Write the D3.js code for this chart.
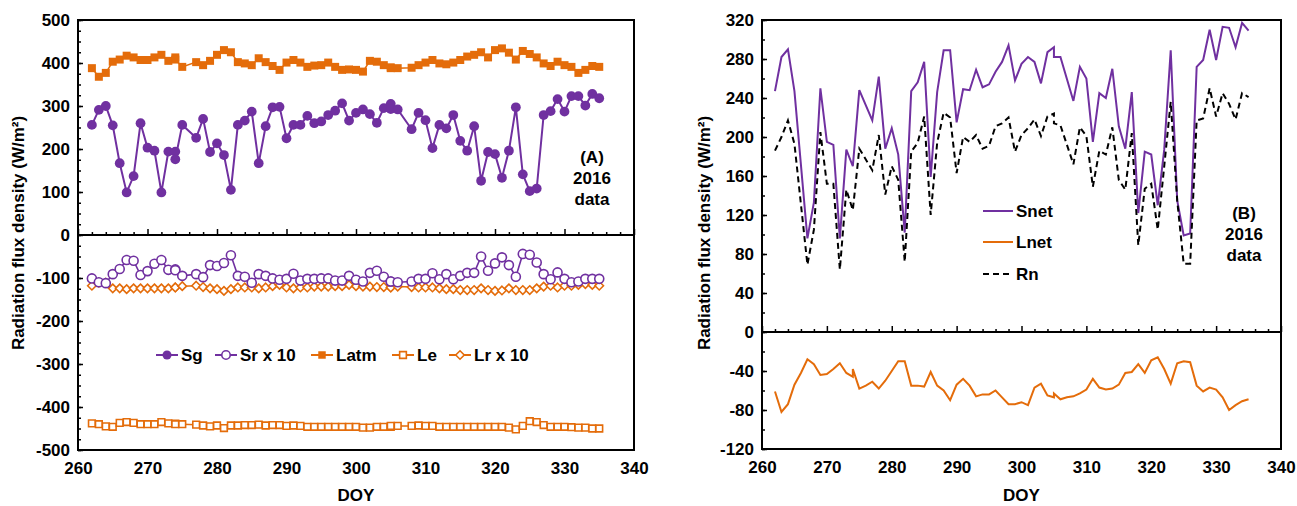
<!DOCTYPE html>
<html><head><meta charset="utf-8">
<script src="https://cdn.jsdelivr.net/npm/d3@7"></script>
<style>
body{margin:0;background:#fff;}
text{font-family:"Liberation Sans",Arial,sans-serif;font-weight:bold;fill:#000;}
</style></head>
<body><svg id="c" width="1297" height="506"></svg>
<script>
// ---------- Panel A data ----------
const leftDOY = [262,263,264,265,266,267,268,269,270,271,272,273,274,274,275,277,278,279,280,281,282,283,284,285,286,287,288,289,290,291,292,293,294,295,296,297,298,299,300,301,302,303,304,305,305,306,308,309,310,311,312,313,314,315,316,317,318,319,320,321,322,323,324,325,326,327,328,329,330,331,332,333,334,335];
const Sg   = [256,291,300,255,167,99,137,260,203,196,99,194,194,176,256,226,270,193,213,186,105,256,266,287,167,253,297,298,225,256,256,277,260,264,279,289,306,266,284,292,281,261,295,305,293,292,246,284,267,202,256,248,279,219,196,253,126,193,188,133,196,297,141,102,108,279,288,316,287,323,323,301,328,318];
const SrX10 = [-101,-110,-112,-91,-79,-58,-60,-93,-84,-67,-58,-81,-80,-82,-95,-91,-98,-70,-72,-65,-47,-95,-97,-111,-91,-95,-101,-104,-102,-90,-106,-102,-102,-101,-101,-106,-106,-95,-104,-108,-88,-83,-97,-108,-108,-110,-108,-102,-102,-89,-103,-91,-103,-95,-88,-88,-50,-83,-66,-52,-70,-97,-44,-46,-64,-91,-103,-87,-102,-110,-108,-102,-102,-102];
const Latm = [388,368,377,403,408,417,413,407,407,413,419,405,413,408,391,402,395,405,419,430,425,402,399,395,411,402,393,384,401,407,401,391,394,395,401,391,384,385,384,380,405,403,395,388,390,388,389,395,401,407,399,397,401,407,415,419,425,413,430,434,424,408,428,421,413,399,393,403,395,391,377,384,393,391];
const Le   = [-438,-440,-445,-446,-437,-435,-437,-440,-440,-440,-435,-438,-439,-440,-440,-441,-443,-445,-443,-449,-443,-443,-442,-442,-441,-443,-442,-442,-444,-443,-444,-446,-446,-446,-446,-446,-446,-446,-446,-448,-448,-446,-446,-446,-444,-444,-444,-443,-444,-444,-446,-446,-446,-446,-446,-446,-446,-446,-446,-446,-448,-452,-444,-433,-435,-442,-446,-446,-446,-447,-448,-448,-450,-450];
const LrX10 = [-118,-111,-111,-124,-124,-126,-124,-124,-124,-124,-124,-124,-122,-122,-119,-118,-121,-124,-126,-130,-126,-122,-122,-122,-124,-122,-119,-116,-122,-124,-122,-122,-120,-120,-120,-119,-119,-116,-119,-120,-120,-121,-121,-122,-122,-120,-121,-122,-122,-122,-124,-126,-126,-128,-128,-128,-124,-128,-130,-129,-124,-128,-128,-128,-124,-120,-118,-122,-118,-118,-116,-114,-116,-118];

// ---------- Panel B data ----------
const rightDOY = [262,263,264,265,267,268,269,270,271,272,273,274,275,277,278,279,280,281,282,283,284,285,286,287,288,289,290,291,292,293,294,295,296,297,298,299,300,301,302,303,304,305,305,306,308,309,310,311,312,313,314,315,316,317,318,319,320,321,322,323,324,325,326,327,328,329,330,331,332,333,334,335];
const Snet = [247,282,290,247,96,133,250,195,192,96,187,170,248,217,262,188,209,182,102,247,256,277,159,246,289,289,215,249,248,269,251,254,267,277,294,258,275,282,277,255,287,292,282,282,237,272,260,195,245,240,270,211,188,246,122,185,182,130,187,289,135,99,101,272,279,310,279,313,312,292,317,309];
const Rn   = [186,200,217,193,69,105,205,152,152,64,146,125,188,166,202,141,170,156,72,185,194,221,120,194,225,220,163,200,195,202,188,191,211,214,220,185,202,209,218,201,221,224,214,212,172,210,201,149,186,182,210,156,146,204,89,147,152,105,170,236,135,70,70,217,219,250,221,245,234,218,245,241];
const lnetDOY = [262,263,264,265,266,267,268,269,270,271,272,273,274,274,275,276,277,278,279,280,281,282,283,284,285,286,287,288,289,290,291,292,293,294,295,296,297,298,299,300,301,302,303,304,305,305,306,307,308,309,310,311,312,313,314,315,316,317,318,319,320,321,322,323,324,325,326,327,328,329,330,331,332,333,334,335];
const Lnet = [-61,-82,-74,-54,-42,-28,-33,-44,-43,-38,-32,-42,-46,-38,-58,-55,-51,-58,-50,-40,-30,-30,-55,-55,-56,-41,-55,-60,-70,-54,-48,-55,-66,-64,-64,-60,-67,-74,-74,-72,-75,-57,-53,-65,-67,-63,-69,-67,-66,-63,-59,-48,-57,-59,-58,-54,-42,-41,-33,-42,-29,-26,-38,-53,-32,-30,-31,-55,-61,-57,-59,-67,-80,-75,-71,-69];

const xTicks = [260,270,280,290,300,310,320,330,340];
const yTicksA = [500,400,300,200,100,0,-100,-200,-300,-400,-500];
const yTicksB = [320,280,240,200,160,120,80,40,0,-40,-80,-120];

const PURPLE = "#7030a0", ORANGE = "#e46c0a";
const FS = "17px";
const svg = d3.select("#c");
const fmt = d => String(d);
// compact diamond (rotated square)
const diamond = {draw(ctx, size){ const r = Math.sqrt(size/2); ctx.moveTo(0,-r); ctx.lineTo(r,0); ctx.lineTo(0,r); ctx.lineTo(-r,0); ctx.closePath(); }};

function zipXY(xs, ys){ return xs.map((d,i)=>[d, ys[i]]); }

function panel(opt){
  const g = svg.append("g");
  const x = d3.scaleLinear().domain([260,340]).range(opt.xr);
  const y = d3.scaleLinear().domain(opt.yd).range(opt.yr);
  g.append("g").attr("transform",`translate(${opt.xr[0]},0)`)
    .call(d3.axisLeft(y).tickValues(opt.yTicks).tickFormat(fmt).tickSizeInner(-5).tickSizeOuter(0).tickPadding(8))
    .call(a=>{a.select(".domain").remove(); a.selectAll("line").attr("stroke","#000").attr("stroke-width",1.5);
      a.selectAll("text").style("font-size",FS).attr("fill","#000");});
  g.append("g").attr("transform",`translate(${opt.xr[0]},0)`)
    .call(d3.axisLeft(y).tickValues(d3.range(opt.yd[0], opt.yd[1]+0.01, opt.yMinor)).tickSizeInner(-3).tickSizeOuter(0).tickFormat(""))
    .call(a=>{a.select(".domain").remove(); a.selectAll("line").attr("stroke","#000").attr("stroke-width",1.5);});
  g.append("g").attr("transform",`translate(0,${y(0)})`)
    .call(d3.axisTop(x).tickValues(xTicks).tickSizeInner(6).tickSizeOuter(0).tickFormat(""))
    .call(a=>{a.select(".domain").remove(); a.selectAll("line").attr("stroke","#000").attr("stroke-width",1.5);});
  g.append("g").attr("transform",`translate(0,${y(0)})`)
    .call(d3.axisTop(x).tickValues(d3.range(262,340,2).filter(v=>v%10!==0)).tickSizeInner(3).tickSizeOuter(0).tickFormat(""))
    .call(a=>{a.select(".domain").remove(); a.selectAll("line").attr("stroke","#000").attr("stroke-width",1.5);});
  g.append("g").attr("transform",`translate(0,${opt.yr[0]})`)
    .call(d3.axisBottom(x).tickValues(xTicks).tickFormat(fmt).tickSize(0).tickPadding(12))
    .call(a=>{a.select(".domain").remove(); a.selectAll("text").style("font-size",FS).attr("fill","#000");});
  g.append("rect").attr("x",opt.xr[0]).attr("y",opt.yr[1]).attr("width",opt.xr[1]-opt.xr[0]).attr("height",opt.yr[0]-opt.yr[1])
    .attr("fill","none").attr("stroke","#000").attr("stroke-width",2);
  g.append("line").attr("x1",opt.xr[0]).attr("x2",opt.xr[1]).attr("y1",y(0)).attr("y2",y(0)).attr("stroke","#000").attr("stroke-width",2);
  const cx = (opt.xr[0]+opt.xr[1])/2;
  g.append("text").attr("x",cx).attr("y",501).attr("text-anchor","middle").style("font-size","17px").text("DOY");
  g.append("text").attr("transform",`translate(${opt.titleX},${opt.titleY}) rotate(-90)`)
    .attr("text-anchor","middle").style("font-size","17px")
    .text("Radiation flux density (W/m²)");
  opt.note.forEach((t,i)=>g.append("text").attr("x",opt.noteX).attr("y",opt.noteY+i*21).attr("text-anchor","middle").style("font-size","17px").text(t));
  return {g,x,y};
}

// ---------- Panel A ----------
const A = panel({xr:[78,634], yr:[450,20], yd:[-500,500], yTicks:yTicksA, yMinor:25, titleX:24, titleY:233,
  note:["(A)","2016","data"], noteX:592, noteY:163});
const la = d3.line().x(d=>A.x(d[0])).y(d=>A.y(d[1]));

function series(P, line, data, color, sym, size, filled, lw){
  P.g.append("path").datum(data).attr("d",line).attr("fill","none").attr("stroke",color).attr("stroke-width",lw);
  P.g.selectAll(null).data(data).enter().append("path")
    .attr("transform",d=>`translate(${P.x(d[0])},${P.y(d[1])})`)
    .attr("d",d3.symbol(sym,size))
    .attr("fill",filled?color:"#fff").attr("stroke",color).attr("stroke-width",filled?0:1.6);
}
series(A, la, zipXY(leftDOY,Latm), ORANGE, d3.symbolSquare, 64, true, 1.5);
series(A, la, zipXY(leftDOY,Sg), PURPLE, d3.symbolCircle, 75, true, 2);
series(A, la, zipXY(leftDOY,Le), ORANGE, d3.symbolSquare, 45, false, 1.5);
series(A, la, zipXY(leftDOY,LrX10), ORANGE, diamond, 36, false, 1.5);
series(A, la, zipXY(leftDOY,SrX10), PURPLE, d3.symbolCircle, 64, false, 1.6);

const legA = [
  {name:"Sg", color:PURPLE, sym:d3.symbolCircle, size:64, filled:true, x:156},
  {name:"Sr x 10", color:PURPLE, sym:d3.symbolCircle, size:56, filled:false, x:215},
  {name:"Latm", color:ORANGE, sym:d3.symbolSquare, size:56, filled:true, x:311},
  {name:"Le", color:ORANGE, sym:d3.symbolSquare, size:45, filled:false, x:392},
  {name:"Lr x 10", color:ORANGE, sym:diamond, size:36, filled:false, x:449}
];
legA.forEach(l=>{
  const yy = 355;
  A.g.append("line").attr("x1",l.x).attr("x2",l.x+22).attr("y1",yy).attr("y2",yy).attr("stroke",l.color).attr("stroke-width",2);
  A.g.append("path").attr("transform",`translate(${l.x+11},${yy})`).attr("d",d3.symbol(l.sym,l.size))
    .attr("fill",l.filled?l.color:"#fff").attr("stroke",l.color).attr("stroke-width",l.filled?0:1.6);
  A.g.append("text").attr("x",l.x+25).attr("y",yy+6).style("font-size","17px").text(l.name);
});

// ---------- Panel B ----------
const B = panel({xr:[762,1281], yr:[449,20], yd:[-120,320], yTicks:yTicksB, yMinor:20, titleX:710, titleY:233,
  note:["(B)","2016","data"], noteX:1244, noteY:219});
const lb = d3.line().x(d=>B.x(d[0])).y(d=>B.y(d[1]));
B.g.append("path").datum(zipXY(rightDOY,Snet)).attr("d",lb).attr("fill","none").attr("stroke",PURPLE).attr("stroke-width",2);
B.g.append("path").datum(zipXY(rightDOY,Rn)).attr("d",lb).attr("fill","none").attr("stroke","#000").attr("stroke-width",2).attr("stroke-dasharray","6,4");
B.g.append("path").datum(zipXY(lnetDOY,Lnet)).attr("d",lb).attr("fill","none").attr("stroke",ORANGE).attr("stroke-width",2);

const legB = [
  {name:"Snet", color:PURPLE, dash:null, y:211},
  {name:"Lnet", color:ORANGE, dash:null, y:242},
  {name:"Rn", color:"#000", dash:"6,4", y:274}
];
legB.forEach(l=>{
  B.g.append("line").attr("x1",983).attr("x2",1013).attr("y1",l.y).attr("y2",l.y).attr("stroke",l.color).attr("stroke-width",2)
    .attr("stroke-dasharray",l.dash);
  B.g.append("text").attr("x",1016).attr("y",l.y+6).style("font-size","17px").text(l.name);
});
</script></body></html>
